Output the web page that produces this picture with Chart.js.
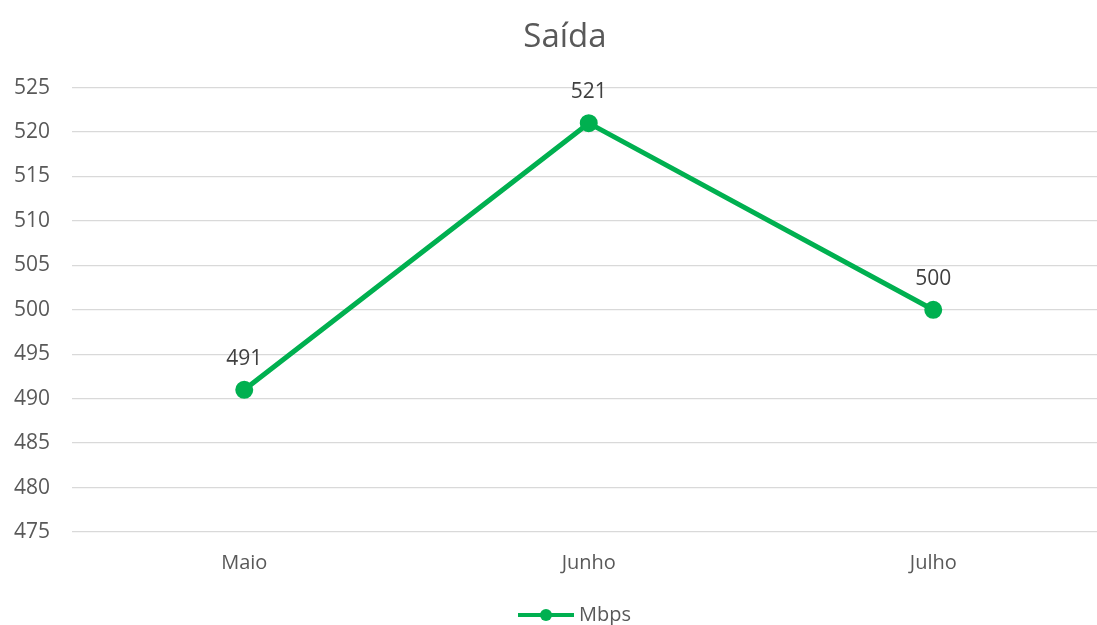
<!DOCTYPE html>
<html>
<head>
<meta charset="utf-8">
<script src="https://cdn.jsdelivr.net/npm/chart.js@4.4.1/dist/chart.umd.min.js"></script>
<style>
  html, body { margin: 0; padding: 0; background: #fff; overflow: hidden; }
  #wrap { width: 1117px; height: 635px; position: relative; }
</style>
</head>
<body>
<div id="wrap"><canvas id="chart"></canvas></div>
<script>
const categories = ['Maio', 'Junho', 'Julho'];
const seriesLabel = 'Mbps';
const seriesValues = [491, 521, 500];
const yTicks = { min: 475, max: 525, step: 5 };

const green = '#00B050';
const textColor = '#595959';
const fontFamily = "'Open Sans', 'Noto Sans', sans-serif";

// legend marker: line with a dot in the middle
const marker = document.createElement('canvas');
marker.width = 56;
marker.height = 14;
const mctx = marker.getContext('2d');
mctx.strokeStyle = green;
mctx.lineWidth = 4;
mctx.beginPath();
mctx.moveTo(0, 7);
mctx.lineTo(56, 7);
mctx.stroke();
mctx.fillStyle = green;
mctx.beginPath();
mctx.arc(28, 7, 6, 0, Math.PI * 2);
mctx.fill();

const valueLabels = {
    id: 'valueLabels',
    afterDatasetsDraw(chart) {
        const ctx = chart.ctx;
        ctx.save();
        ctx.font = '21px ' + fontFamily;
        ctx.fillStyle = '#404040';
        ctx.textAlign = 'center';
        ctx.textBaseline = 'middle';
        chart.getDatasetMeta(0).data.forEach((pt, i) => {
            ctx.fillText(chart.data.datasets[0].data[i], pt.x, pt.y - 31);
        });
        ctx.restore();
    }
};

// nudge the legend a little to the right, like the original
const legendShift = {
    id: 'legendShift',
    afterLayout(chart) {
        if (chart.legend) {
            chart.legend.left += 12;
            chart.legend.right += 12;
        }
    }
};

const ctx = document.getElementById('chart');
new Chart(ctx, {
    type: 'line',
    data: {
        labels: categories,
        datasets: [{
            label: seriesLabel,
            data: seriesValues,
            borderColor: green,
            backgroundColor: green,
            borderWidth: 5,
            pointRadius: 6.5,
            pointHoverRadius: 6.5,
            pointBackgroundColor: green,
            pointBorderColor: green,
            tension: 0,
            fill: false,
        }]
    },
    options: {
        responsive: true,
        maintainAspectRatio: false,
        animation: false,
        layout: { padding: { left: 13, right: 0, top: 10, bottom: 0 } },
        scales: {
            x: {
                offset: true,
                grid: { display: false, drawTicks: false },
                border: { display: false },
                ticks: { color: textColor, font: { family: fontFamily, size: 20 }, padding: 19 },
                afterFit(scale) { scale.height = 68; }
            },
            y: {
                min: yTicks.min,
                max: yTicks.max,
                grid: { color: '#D9D9D9', lineWidth: 1.3, drawTicks: false },
                border: { display: false },
                ticks: {
                    stepSize: yTicks.step,
                    color: textColor,
                    font: { family: fontFamily, size: 21 },
                    padding: 22
                },
                afterFit(scale) { scale.width = 59; }
            }
        },
        plugins: {
            title: {
                display: true,
                text: 'Saída',
                color: textColor,
                font: { family: fontFamily, size: 33, weight: 'normal' },
                padding: { top: 8, bottom: 30 }
            },
            legend: {
                display: true,
                position: 'bottom',
                labels: {
                    color: textColor,
                    font: { family: fontFamily, size: 20 },
                    usePointStyle: true,
                    pointStyleWidth: 46,
                    padding: 5,
                    generateLabels(chart) {
                        return [{
                            text: seriesLabel,
                            pointStyle: marker,
                            fillStyle: green,
                            strokeStyle: green,
                            fontColor: textColor,
                            datasetIndex: 0,
                            hidden: false
                        }];
                    }
                }
            },
            tooltip: { enabled: false }
        }
    },
    plugins: [valueLabels, legendShift]
});
</script>
</body>
</html>
